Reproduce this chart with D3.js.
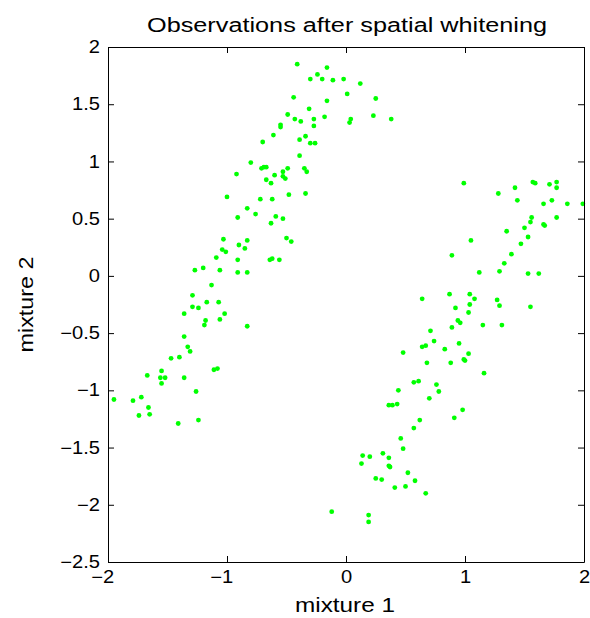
<!DOCTYPE html>
<html>
<head>
<meta charset="utf-8">
<script src="https://cdn.jsdelivr.net/npm/d3@7"></script>
<style>
  html, body { margin: 0; padding: 0; background: #ffffff; }
  svg { display: block; font-family: "Liberation Sans", Arial, Helvetica, sans-serif; }
</style>
</head>
<body>
<svg id="chart" width="590" height="618"></svg>
<script>
// Whitened observations: first mixture on x, second mixture on y
const titleText = "Observations after spatial whitening";
const xLabelText = "mixture 1";
const yLabelText = "mixture 2";
const xTickValues = [-2, -1, 0, 1, 2];
const yTickValues = [-2.5, -2, -1.5, -1, -0.5, 0, 0.5, 1, 1.5, 2];

// Upper-left cloud
const leftMix1 = [
  -0.41, -0.16, -0.30, -0.24, -0.20, -0.11, -0.02, 0.01, -0.44, -0.16,
  -0.31, -0.49, -0.43, -0.38, -0.27, -0.18, 0.03, 0.04, -0.55, -0.55,
  -0.27, -0.61, -0.70, -0.39, -0.34, -0.30, -0.26, -0.39, -0.80, -0.71,
  -0.69, -0.67, -0.92, -0.49, -0.35, -0.33, -0.53, -0.53, -0.51, -0.60,
  -0.67, -0.63, -1.00, -0.72, -0.62, -0.48, -0.34, -0.83, -0.76, -0.91,
  -0.59, -0.63, -0.53, -1.03, -0.83, -0.90, -0.85, -1.04, -1.01, -0.50,
  -0.46, -1.09, -0.91, -0.64, -0.62, -0.56, -1.27, -1.20, -1.06, -0.91,
  -0.83, -1.13, -1.29, -1.29, -1.24, -1.17, -1.07, -1.36, -1.02, -1.06,
  -1.18, -1.19, -0.83, -1.36, -1.33, -1.31, -1.47, -1.40, -1.67, -1.55,
  -1.56, -1.52, -1.55, -1.36, -1.11, -1.08, -1.26, -1.95, -1.79, -1.72,
  -1.66, -1.74, -1.65, -1.41, -1.24, 0.12, 0.25, 0.23, 0.38
];
const leftMix2 = [
  1.85, 1.82, 1.72, 1.76, 1.72, 1.71, 1.72, 1.59, 1.56, 1.53,
  1.46, 1.41, 1.37, 1.35, 1.37, 1.39, 1.34, 1.37, 1.32, 1.30,
  1.31, 1.23, 1.17, 1.19, 1.22, 1.16, 1.16, 1.05, 0.99, 0.94,
  0.95, 0.95, 0.89, 0.94, 0.94, 0.91, 0.91, 0.87, 0.85, 0.88,
  0.84, 0.81, 0.69, 0.67, 0.67, 0.71, 0.72, 0.59, 0.54, 0.51,
  0.52, 0.46, 0.50, 0.32, 0.31, 0.27, 0.24, 0.23, 0.21, 0.33,
  0.30, 0.16, 0.14, 0.14, 0.15, 0.14, 0.05, 0.07, 0.05, 0.03,
  0.03, -0.08, -0.17, -0.27, -0.28, -0.23, -0.23, -0.33, -0.33, -0.38,
  -0.39, -0.43, -0.44, -0.53, -0.62, -0.66, -0.72, -0.71, -0.87, -0.83,
  -0.89, -0.89, -0.94, -0.89, -0.82, -0.81, -1.01, -1.08, -1.09, -1.06,
  -1.15, -1.22, -1.21, -1.29, -1.26, 1.68, 1.55, 1.40, 1.37
];

// Lower-right cloud
const rightMix1 = [
  0.99, 1.28, 1.42, 1.57, 1.59, 1.71, 1.77, 1.77, 1.44, 1.66,
  1.73, 1.86, 1.99, 1.56, 1.77, 1.55, 1.66, 1.67, 1.50, 1.35,
  1.53, 1.47, 1.05, 1.39, 0.89, 1.33, 1.29, 1.12, 1.53, 1.62,
  0.64, 0.87, 1.04, 1.08, 1.27, 0.92, 1.04, 1.29, 1.55, 1.03,
  0.94, 0.96, 0.89, 1.15, 1.31, 0.71, 0.74, 0.64, 0.67, 0.48,
  0.83, 0.95, 1.03, 0.99, 1.00, 0.68, 0.88, 1.16, 0.57, 0.61,
  0.76, 0.44, 0.78, 0.70, 0.36, 0.39, 0.43, 0.98, 0.91, 0.62,
  0.57, 0.46, 0.48, 0.14, 0.20, 0.13, 0.31, 0.36, 0.36, 0.37,
  0.52, 0.25, 0.30, 0.58, 0.41, 0.50, 0.67, -0.12, 0.19, 0.19
];
const rightMix2 = [
  0.81, 0.72, 0.77, 0.82, 0.81, 0.80, 0.82, 0.77, 0.66, 0.63,
  0.66, 0.63, 0.63, 0.51, 0.51, 0.47, 0.45, 0.44, 0.42, 0.39,
  0.34, 0.28, 0.31, 0.19, 0.18, 0.11, 0.04, 0.03, 0.02, 0.02,
  -0.20, -0.16, -0.16, -0.20, -0.21, -0.28, -0.25, -0.26, -0.27, -0.32,
  -0.39, -0.41, -0.45, -0.43, -0.43, -0.48, -0.57, -0.62, -0.61, -0.67,
  -0.64, -0.59, -0.68, -0.73, -0.74, -0.76, -0.76, -0.85, -0.93, -0.92,
  -0.95, -1.00, -1.01, -1.07, -1.13, -1.13, -1.12, -1.17, -1.24, -1.26,
  -1.33, -1.42, -1.51, -1.57, -1.58, -1.64, -1.55, -1.59, -1.66, -1.67,
  -1.72, -1.77, -1.78, -1.79, -1.85, -1.84, -1.90, -2.06, -2.09, -2.15
];

const points = leftMix1.map((v, i) => [v, leftMix2[i]])
  .concat(rightMix1.map((v, i) => [v, rightMix2[i]]));

const svg = d3.select("#chart");
svg.append("rect").attr("width", 590).attr("height", 618).attr("fill", "#ffffff");

const plot = { left: 108, right: 584, top: 47, bottom: 562 };
const x = d3.scaleLinear().domain([-2, 2]).range([plot.left, plot.right]);
const y = d3.scaleLinear().domain([-2.5, 2]).range([plot.bottom, plot.top]);

const stretch = 1.15;          // slightly wide glyphs on tick labels
const tickFont = 17.5;
const fmt = d => (d < 0 ? "\u2212" + Math.abs(d) : String(d));

// width of the minus sign, so negative x labels center on their digits
const probe = svg.append("text").attr("font-size", tickFont).text("\u2212");
const minusW = probe.node().getComputedTextLength();
probe.remove();

function styleAxis(g) {
  g.select(".domain").attr("stroke", "#000").attr("stroke-width", 1);
  g.selectAll(".tick line").attr("stroke", "#000").attr("stroke-width", 1);
  g.selectAll(".tick text")
    .attr("fill", "#000")
    .attr("font-size", tickFont)
    .attr("font-family", '"Liberation Sans", Arial, Helvetica, sans-serif');
}

// dots first, the frame drawn on top
svg.append("g")
  .selectAll("circle")
  .data(points)
  .join("circle")
  .attr("cx", d => x(d[0]))
  .attr("cy", d => y(d[1]))
  .attr("r", 2.4)
  .attr("fill", "#00ff00");

// bottom axis with labels
const gx = svg.append("g")
  .attr("transform", `translate(0,${plot.bottom})`)
  .call(d3.axisBottom(x).tickValues(xTickValues).tickFormat(fmt)
    .tickSizeInner(-6).tickSizeOuter(0).tickPadding(9))
  .call(styleAxis);
gx.selectAll(".tick text")
  .attr("x", d => (d < 0 ? -minusW / 2 : 0))
  .attr("transform", `scale(${stretch},1)`);

// left axis with labels
const gy = svg.append("g")
  .attr("transform", `translate(${plot.left},0)`)
  .call(d3.axisLeft(y).tickValues(yTickValues).tickFormat(fmt)
    .tickSizeInner(-6).tickSizeOuter(0).tickPadding(8))
  .call(styleAxis);
gy.selectAll(".tick text")
  .attr("x", -8 / stretch)
  .attr("transform", `scale(${stretch},1)`);

// top and right edges of the box, ticks only
svg.append("g")
  .attr("transform", `translate(0,${plot.top})`)
  .call(d3.axisTop(x).tickValues(xTickValues).tickFormat("")
    .tickSizeInner(-6).tickSizeOuter(0))
  .call(styleAxis);
svg.append("g")
  .attr("transform", `translate(${plot.right},0)`)
  .call(d3.axisRight(y).tickValues(yTickValues).tickFormat("")
    .tickSizeInner(-6).tickSizeOuter(0))
  .call(styleAxis);

// title and axis labels
svg.append("text")
  .attr("x", 347).attr("y", 32)
  .attr("text-anchor", "middle")
  .attr("font-size", 20)
  .attr("textLength", 400).attr("lengthAdjust", "spacingAndGlyphs")
  .attr("fill", "#000")
  .text(titleText);

svg.append("text")
  .attr("x", 345).attr("y", 612)
  .attr("text-anchor", "middle")
  .attr("font-size", 20)
  .attr("textLength", 100).attr("lengthAdjust", "spacingAndGlyphs")
  .attr("fill", "#000")
  .text(xLabelText);

svg.append("text")
  .attr("transform", `translate(33,${(plot.top + plot.bottom) / 2}) rotate(-90)`)
  .attr("text-anchor", "middle")
  .attr("font-size", 20)
  .attr("textLength", 96).attr("lengthAdjust", "spacingAndGlyphs")
  .attr("fill", "#000")
  .text(yLabelText);
</script>
</body>
</html>
